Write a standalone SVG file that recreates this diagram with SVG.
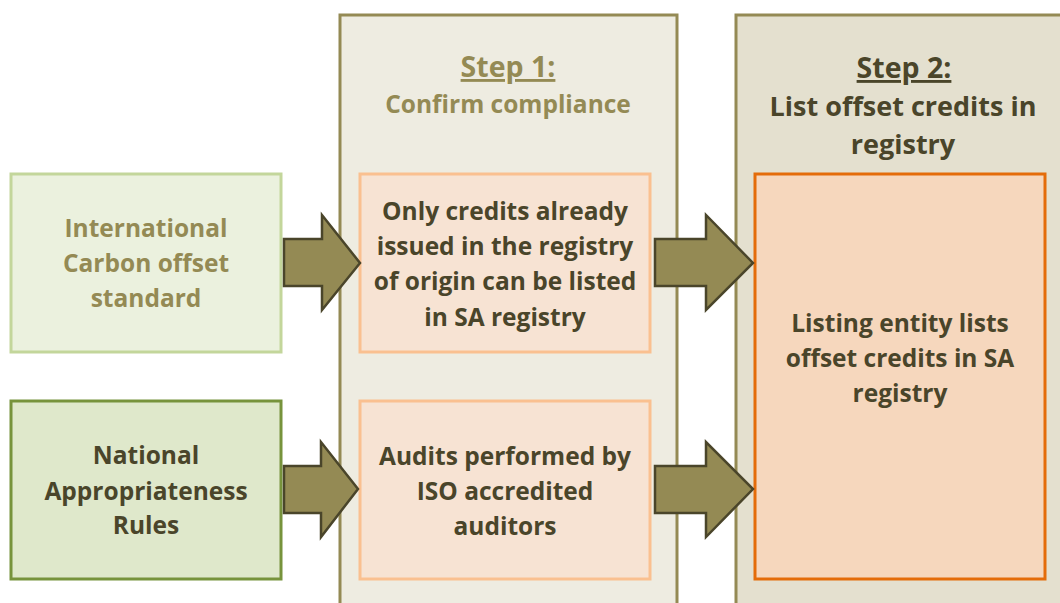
<svg xmlns="http://www.w3.org/2000/svg" width="1060" height="603" viewBox="0 0 1060 603">
<style>
text{font-family:"Open Sans",Lato,"Liberation Sans",sans-serif;font-weight:bold;font-size:24.5px;text-anchor:middle}
.olive{fill:#948a54}
.dark{fill:#4a452a}
.big{font-size:27px}
.step{font-size:28.5px}
.arrow{fill:#948a54;stroke:#4a452a;stroke-width:2.5;stroke-linejoin:miter}
</style>
<rect width="1060" height="603" fill="#ffffff"/>
<g id="step1">
<rect x="340" y="15" width="337" height="600" fill="#eeece1" stroke="#948a54" stroke-width="3"/>
<text x="508" y="77" class="olive step" text-decoration="underline">Step 1:</text>
<text x="508" y="113" class="olive">Confirm compliance</text>
</g>
<g id="step2">
<rect x="736" y="15" width="340" height="600" fill="#e4e0cf" stroke="#948a54" stroke-width="3"/>
<text x="904" y="78" class="dark step" text-decoration="underline">Step 2:</text>
<text x="903" y="116" class="dark big">List offset credits in</text>
<text x="903" y="154" class="dark big">registry</text>
</g>
<g id="intl">
<rect x="11" y="174" width="270" height="178" fill="#ebf1de" stroke="#c3d69b" stroke-width="3"/>
<text x="146" y="237" class="olive">International</text>
<text x="146" y="272" class="olive">Carbon offset</text>
<text x="146" y="307" class="olive">standard</text>
</g>
<g id="national">
<rect x="11" y="401" width="270" height="178" fill="#dfe8cb" stroke="#77933c" stroke-width="3"/>
<text x="146" y="464" class="dark">National</text>
<text x="146" y="500" class="dark">Appropriateness</text>
<text x="146" y="534" class="dark">Rules</text>
</g>
<g id="only">
<rect x="360" y="174" width="290" height="178" fill="#f7e3d3" stroke="#fac090" stroke-width="3"/>
<text x="505" y="220" class="dark">Only credits already</text>
<text x="505" y="255" class="dark">issued in the registry</text>
<text x="505" y="290" class="dark">of origin can be listed</text>
<text x="505" y="326" class="dark">in SA registry</text>
</g>
<g id="audits">
<rect x="360" y="401" width="290" height="178" fill="#f7e3d3" stroke="#fac090" stroke-width="3"/>
<text x="505" y="465" class="dark">Audits performed by</text>
<text x="505" y="500" class="dark">ISO accredited</text>
<text x="505" y="535" class="dark">auditors</text>
</g>
<g id="listing">
<rect x="755" y="174" width="290" height="405" fill="#f6d7bd" stroke="#e46c0a" stroke-width="3"/>
<text x="900" y="332" class="dark">Listing entity lists</text>
<text x="900" y="367" class="dark">offset credits in SA</text>
<text x="900" y="402" class="dark">registry</text>
</g>
<g id="connectors">
<polygon class="arrow" points="284,239 322,239 322,215 360,263 322,310 322,286 284,286"/>
<polygon class="arrow" points="284,466 321,466 321,442 358,489 321,537 321,513 284,513"/>
<polygon class="arrow" points="655,239 706,239 706,215 753,263 706,310 706,286 655,286"/>
<polygon class="arrow" points="655,466 706,466 706,442 753,489 706,537 706,513 655,513"/>
</g>
</svg>
